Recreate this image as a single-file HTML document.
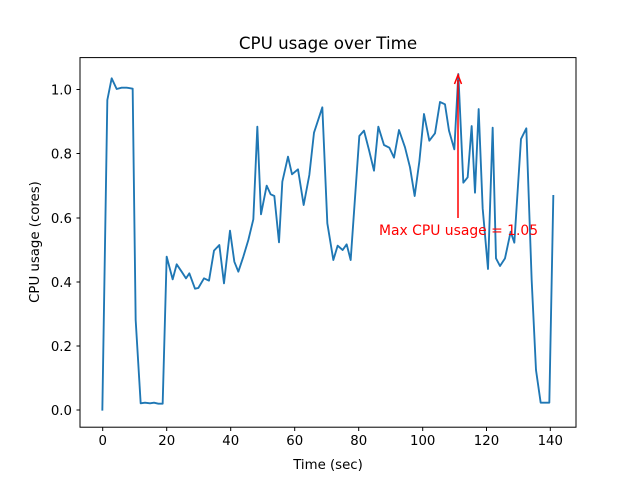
<!DOCTYPE html>
<html><head><style>body{margin:0;background:#fff}svg{display:block}text{font-family:"DejaVu Sans","Liberation Sans",sans-serif}</style></head><body>
<svg width="640" height="480" viewBox="0 0 640 480">
<rect width="640" height="480" fill="#fff"/>
<g transform="translate(80,60) scale(0.33333)">
<polyline fill="none" stroke="#1f77b4" stroke-width="5.6" stroke-linejoin="round" points="67,1052 82,120 95,55 110,87 125,83 140,83 158,86 167,780 182,1030 195,1028 210,1030 222,1028 235,1031 248,1031 260,590 278,658 290,613 305,635 318,655 328,640 345,686 355,684 372,655 387,662 402,572 418,555 432,670 450,512 463,605 475,635 490,590 505,540 520,478 532,200 543,463 560,377 572,403 583,408 597,547 607,365 624,290 636,343 654,328 671,435 688,345 702,218 727,142 742,490 760,600 773,557 788,570 800,553 812,600 838,228 852,212 867,270 882,332 895,200 912,255 928,263 942,293 957,210 975,262 990,322 1004,408 1018,305 1032,162 1048,242 1065,220 1080,126 1095,133 1107,212 1123,268 1135,42 1150,368 1163,352 1175,198 1185,398 1196,147 1208,445 1224,627 1238,203 1248,595 1260,618 1275,595 1292,515 1303,548 1323,237 1339,205 1355,660 1368,930 1382,1028 1408,1028 1420,405"/>
</g>
<line x1="458" y1="218" x2="458" y2="80" stroke="red" stroke-width="1.5"/>
<path d="M454.5,84 L458,75 L461.5,84" fill="none" stroke="red" stroke-width="1.5"/>
<text x="379" y="235" font-size="13.9" fill="red">Max CPU usage = 1.05</text>
<rect x="80" y="57.6" width="496" height="369.6" fill="none" stroke="#000" stroke-width="1"/>
<g stroke="#000" stroke-width="1">
<line x1="102.7" y1="427" x2="102.7" y2="431"/><line x1="166.7" y1="427" x2="166.7" y2="431"/><line x1="230.7" y1="427" x2="230.7" y2="431"/><line x1="294.7" y1="427" x2="294.7" y2="431"/><line x1="358.7" y1="427" x2="358.7" y2="431"/><line x1="422.7" y1="427" x2="422.7" y2="431"/><line x1="486.5" y1="427" x2="486.5" y2="431"/><line x1="550.3" y1="427" x2="550.3" y2="431"/>
<line x1="76.5" y1="410" x2="80" y2="410"/><line x1="76.5" y1="346" x2="80" y2="346"/><line x1="76.5" y1="282" x2="80" y2="282"/><line x1="76.5" y1="218" x2="80" y2="218"/><line x1="76.5" y1="153.5" x2="80" y2="153.5"/><line x1="76.5" y1="89.5" x2="80" y2="89.5"/>
</g>
<g font-size="13.3" text-anchor="middle" fill="#000">
<text x="102.7" y="445">0</text><text x="166.7" y="445">20</text><text x="230.7" y="445">40</text><text x="294.7" y="445">60</text><text x="358.7" y="445">80</text><text x="422.7" y="445">100</text><text x="486.5" y="445">120</text><text x="550.3" y="445">140</text>
<text x="328" y="469">Time (sec)</text>
<text x="328" y="49" font-size="16.7">CPU usage over Time</text>
<text transform="translate(39,242) rotate(-90)">CPU usage (cores)</text>
</g>
<g font-size="13.3" text-anchor="end" fill="#000">
<text x="72" y="415">0.0</text><text x="72" y="351">0.2</text><text x="72" y="287">0.4</text><text x="72" y="223">0.6</text><text x="72" y="158.5">0.8</text><text x="72" y="94.5">1.0</text>
</g>
</svg>
</body></html>
